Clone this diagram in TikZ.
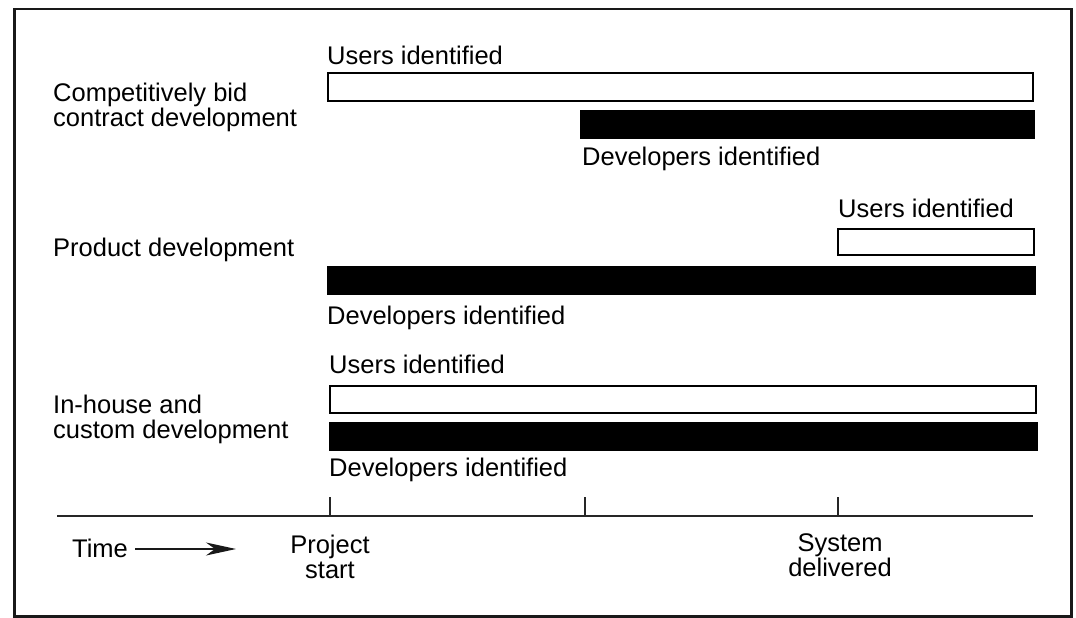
\documentclass[tikz,border=0pt]{standalone}
\usepackage{fontspec}
\setmainfont{Liberation Sans}
\usetikzlibrary{arrows.meta}
\begin{document}
\begin{tikzpicture}[x=1pt,y=-1pt,
  lbl/.style={inner sep=0pt,font=\fontsize{25.5}{25}\selectfont,text=black,align=left},
  userbar/.style={draw=black,line width=2pt,fill=white,inner sep=0pt,anchor=north west},
  devbar/.style={draw=black,fill=black,line width=0.5pt,inner sep=0pt,anchor=north west},
  axis/.style={draw=black!85,line width=2pt},
  tick/.style={draw=black!85,line width=1.5pt}]
\useasboundingbox (0,0) rectangle (1076,618);
\node[draw=black!90,line width=2.5pt,inner sep=0pt,minimum width=1057pt,minimum height=607pt,anchor=north west] (frame) at (13,8) {};
% row 1
\node[lbl,anchor=base west] (g1) at (53,126) {Competitively bid\\contract development};
\node[lbl,anchor=base west] (u1l) at (327,65) {Users identified};
\node[userbar,minimum width=705pt,minimum height=28pt] (u1) at (327,72) {};
\node[devbar,minimum width=454pt,minimum height=28pt] (d1) at (580,110) {};
\node[lbl,anchor=base west] (d1l) at (582,165) {Developers identified};
% row 2
\node[lbl,anchor=base west] (g2) at (53,256) {Product development};
\node[lbl,anchor=base west] (u2l) at (838,217) {Users identified};
\node[userbar,minimum width=196pt,minimum height=26pt] (u2) at (837,228) {};
\node[devbar,minimum width=708pt,minimum height=28pt] (d2) at (327,266) {};
\node[lbl,anchor=base west] (d2l) at (327,324) {Developers identified};
% row 3
\node[lbl,anchor=base west] (g3) at (53,438) {In-house and\\custom development};
\node[lbl,anchor=base west] (u3l) at (329,373) {Users identified};
\node[userbar,minimum width=706pt,minimum height=27pt] (u3) at (329,385) {};
\node[devbar,minimum width=708pt,minimum height=28pt] (d3) at (329,422) {};
\node[lbl,anchor=base west] (d3l) at (329,476) {Developers identified};
% axis
\coordinate (a0) at (57,516);
\coordinate (a1) at (1033,516);
\draw[axis] (a0) -- (a1);
\coordinate (t1) at (330,516); \coordinate (t1t) at (330,497);
\coordinate (t2) at (585,516); \coordinate (t2t) at (585,497);
\coordinate (t3) at (838,516); \coordinate (t3t) at (838,497);
\draw[tick] (t1) -- (t1t);
\draw[tick] (t2) -- (t2t);
\draw[tick] (t3) -- (t3t);
\node[lbl,anchor=base west] (time) at (72,557) {Time};
\coordinate (ta) at (135,549);
\coordinate (tb) at (236,549);
\draw[line width=1.3pt,draw=black!90,-{Stealth[length=30pt,width=13pt,inset=9pt]}] (ta) -- (tb);
\node[lbl,anchor=base,align=center] (ps) at (330,578) {Project\\start};
\node[lbl,anchor=base,align=center] (sd) at (840,576) {System\\delivered};
\end{tikzpicture}
\end{document}
